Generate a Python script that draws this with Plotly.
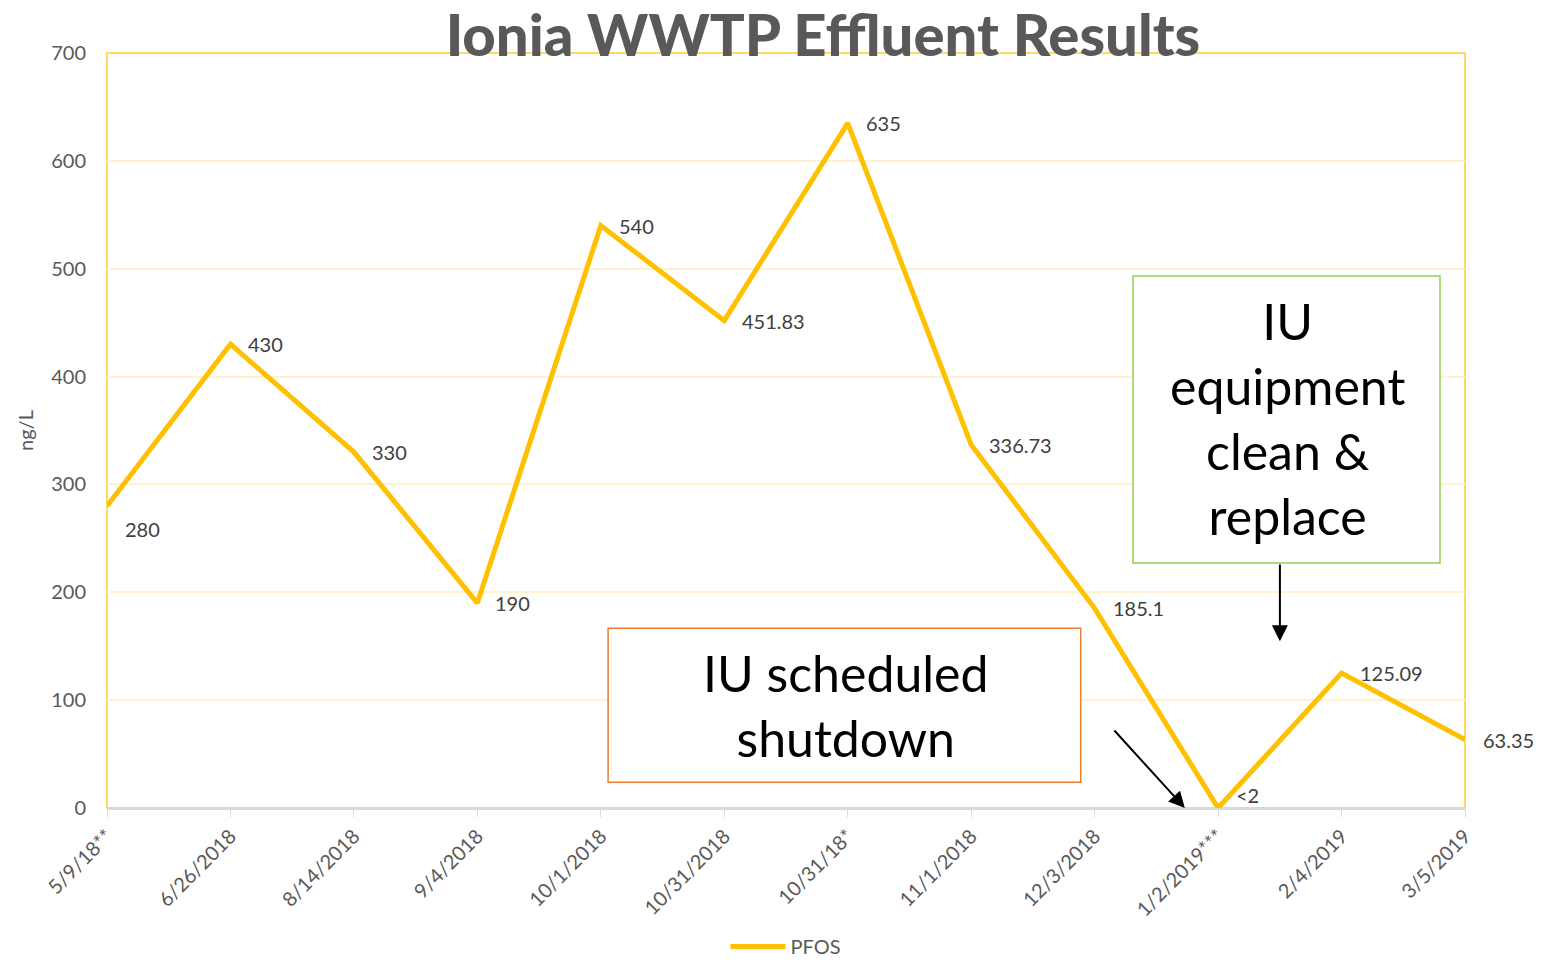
import plotly.graph_objects as go

# sample dates (category axis) and PFOS results
dates = ['5/9/18**', '6/26/2018', '8/14/2018', '9/4/2018', '10/1/2018', '10/31/2018',
         '10/31/18*', '11/1/2018', '12/3/2018', '1/2/2019***', '2/4/2019', '3/5/2019']
pfos = [280, 430, 330, 190, 540, 451.83, 635, 336.73, 185.1, 0, 125.09, 63.35]
pfos_labels = ['280', '430', '330', '190', '540', '451.83', '635', '336.73', '185.1', '<2', '125.09', '63.35']
y_ticks = [0, 100, 200, 300, 400, 500, 600, 700]

FONT = 'Lato'
YELLOW = '#FFC000'

fig = go.Figure()

fig.add_trace(go.Scatter(x=dates, y=pfos, mode='lines', name='PFOS',
                         line=dict(color=YELLOW, width=5), hoverinfo='x+y'))

# data labels, sitting right of each point
for d, v, lab in zip(dates, pfos, pfos_labels):
    yshift = 0
    if lab == '280':
        yshift = -23
    elif lab == '<2':
        yshift = 13
    fig.add_annotation(x=d, y=v, text=lab, showarrow=False, xanchor='left',
                       xshift=16, yshift=yshift,
                       font=dict(family=FONT, size=20, color='#404040'))

# plot border (left/top/right yellow)
fig.add_shape(type='rect', xref='paper', yref='paper', x0=0, x1=1, y0=0, y1=1,
              line=dict(color='#FFD966', width=2), layer='below')

# annotation boxes
fig.add_shape(type='rect', xref='paper', yref='paper', x0=0.369, x1=0.717, y0=0.034, y1=0.238,
              line=dict(color='#ED7D31', width=1.5), fillcolor='white')
fig.add_annotation(xref='paper', yref='paper', x=0.5435, y=0.136, xanchor='center', yanchor='middle',
                   text='IU scheduled<br>shutdown', showarrow=False,
                   font=dict(family=FONT, size=50, color='black'))
fig.add_shape(type='rect', xref='paper', yref='paper', x0=0.7555, x1=0.9816, y0=0.3245, y1=0.7046,
              line=dict(color='#92D050', width=1.5), fillcolor='white')
fig.add_annotation(xref='paper', yref='paper', x=0.869, y=0.516, xanchor='center', yanchor='middle',
                   text='IU<br>equipment<br>clean &<br>replace', showarrow=False,
                   font=dict(family=FONT, size=50, color='black'))

# arrows
fig.add_annotation(xref='x domain', yref='y domain', x=0.7937, y=0.0, ax=0.7408, ay=0.1046,
                   axref='x domain', ayref='y domain', text='', showarrow=True,
                   arrowhead=2, arrowsize=1.6, arrowwidth=2, arrowcolor='black')
fig.add_annotation(xref='x domain', yref='y domain', x=0.8637, y=0.2207, ax=0.8637, ay=0.3245,
                   axref='x domain', ayref='y domain', text='', showarrow=True,
                   arrowhead=2, arrowsize=1.6, arrowwidth=2, arrowcolor='black')

fig.update_layout(
    width=1529, height=958,
    paper_bgcolor='white', plot_bgcolor='white',
    margin=dict(l=99, r=72, t=45, b=158, autoexpand=False),
    font=dict(family=FONT, color='#595959'),
    title=dict(text='Ionia WWTP Effluent Results', x=0.533, xanchor='center',
               y=0.971, yanchor='middle',
               font=dict(family=FONT, size=58, color='#595959', weight=900)),
    xaxis=dict(type='category', range=[0, 11], showgrid=False, showline=True,
               linecolor='#D9D9D9', linewidth=1.5, ticks='outside', ticklen=7,
               tickcolor='#D9D9D9', tickangle=-45, tickfont=dict(size=20, color='#595959'),
               zeroline=False, automargin=False),
    yaxis=dict(range=[0, 700], tickvals=y_ticks, gridcolor='#FFF2CC', gridwidth=1.5,
               showline=False, zeroline=False, ticks='', ticklabelstandoff=20,
               tickfont=dict(size=20, color='#595959'), automargin=False,
               title=dict(text='ng/L', font=dict(size=20, color='#595959'), standoff=12)),
    showlegend=True,
    legend=dict(orientation='h', x=0.5, xanchor='center', yref='container', y=0, yanchor='bottom',
                itemwidth=55, font=dict(size=20, color='#595959')),
)

fig.write_html('out.html')
